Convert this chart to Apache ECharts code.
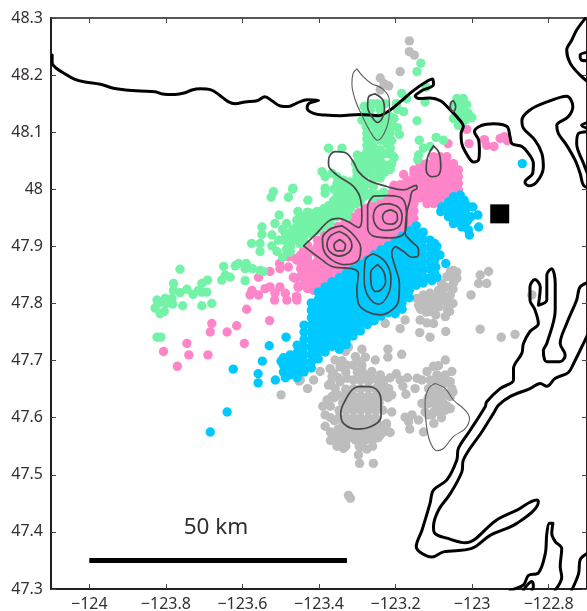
<!DOCTYPE html>
<html><head><meta charset="utf-8">
<style>html,body{margin:0;padding:0;background:#fff}#c{width:587px;height:611px}</style>
<script src="https://cdn.jsdelivr.net/npm/echarts@6/dist/echarts.min.js"></script>
</head><body><div id="c"></div>
<script>
const xTicks=[-124,-123.8,-123.6,-123.4,-123.2,-123,-122.8];
const yTicks=[47.3,47.4,47.5,47.6,47.7,47.8,47.9,48,48.1,48.2,48.3];

// columns: [lon, lat, lat, ...]
const grayColumns=[
[-123.348,47.613,47.600,47.574],[-123.338,47.626,47.587],[-123.329,47.638,47.613,47.600,47.574],[-123.319,47.626,47.587],
[-123.310,47.651,47.638,47.613,47.600,47.574],[-123.300,47.626,47.587],[-123.291,47.651,47.638,47.613,47.600,47.574],[-123.281,47.626,47.587],
[-123.271,47.651,47.638,47.613,47.600,47.574],[-123.262,47.626,47.587],[-123.252,47.651,47.638,47.613,47.600,47.574],[-123.243,47.626,47.587],
[-123.233,47.638,47.613,47.574],[-123.224,47.587],
[-123.370,47.660,47.620,47.600,47.575,47.560],[-123.360,47.635,47.595,47.565],[-123.300,47.680,47.700],[-123.280,47.675],[-123.260,47.668,47.560,47.550],[-123.245,47.665,47.655,47.565],[-123.230,47.665,47.655,47.645],[-123.220,47.635],[-123.330,47.680,47.650,47.640,47.570,47.550],[-123.350,47.640,47.670,47.580,47.570],[-123.390,47.620],[-123.295,47.550,47.575,47.560],[-123.285,47.570],[-123.275,47.545],[-123.340,47.700],
[-123.090,47.650,47.630,47.620],[-123.080,47.665,47.615,47.600,47.635],[-123.100,47.625,47.610,47.590],[-123.065,47.640,47.620],[-123.115,47.635,47.605],[-123.050,47.645],
[-123.080,47.810,47.820,47.835],[-123.065,47.810,47.800,47.790],[-123.050,47.800,47.825,47.845],[-123.095,47.810,47.780,47.795],[-123.120,47.785,47.805],[-123.040,47.855],[-123.135,47.790,47.800]];
const grayPoints=[[-123.384,47.605],[-123.384,47.585],[-123.379,47.631],[-123.366,47.637],[-123.375,47.657],[-123.358,47.651],[-123.345,47.663],[-123.327,47.669],[-123.310,47.666],[-123.292,47.666],[-123.271,47.663],[-123.262,47.681],[-123.240,47.675],[-123.218,47.651],[-123.210,47.640],[-123.210,47.610],[-123.224,47.590],[-123.214,47.574],[-123.240,47.570],[-123.266,47.570],[-123.279,47.561],[-123.288,47.549],[-123.297,47.535],[-123.294,47.520],[-123.258,47.520],[-123.323,47.464],[-123.318,47.459],[-123.331,47.555],[-123.345,47.561],[-123.353,47.550],[-123.336,47.546],[-123.323,47.564],[-123.305,47.561],[-123.362,47.678],[-123.358,47.701],[-123.345,47.689],[-123.327,47.692],[-123.310,47.692],[-123.288,47.692],[-123.288,47.683],[-123.305,47.707],[-123.279,47.706],[-123.288,47.720],[-123.253,47.701],[-123.220,47.720],[-123.220,47.706],[-123.184,47.711],[-123.397,47.681],[-123.414,47.666],[-123.430,47.651],[-123.449,47.666],[-123.366,47.672],[-123.371,47.686],[-123.323,47.724],[-123.331,47.716],
[-123.214,47.670],[-123.198,47.677],[-123.188,47.666],[-123.169,47.670],[-123.181,47.655],[-123.173,47.641],[-123.149,47.651],[-123.144,47.669],[-123.131,47.666],[-123.118,47.681],[-123.110,47.666],[-123.101,47.690],[-123.088,47.691],[-123.070,47.701],[-123.053,47.681],[-123.092,47.675],[-123.070,47.675],[-123.057,47.663],[-123.092,47.660],[-123.073,47.660],[-123.053,47.651],[-123.114,47.651],[-123.097,47.648],[-123.075,47.643],[-123.057,47.637],[-123.092,47.637],[-123.110,47.637],[-123.131,47.625],[-123.114,47.625],[-123.092,47.625],[-123.075,47.625],[-123.057,47.616],[-123.123,47.610],[-123.105,47.605],[-123.088,47.610],[-123.070,47.613],[-123.157,47.605],[-123.175,47.601],[-123.166,47.593],[-123.163,47.580],[-123.140,47.596],[-123.127,47.575],
[-123.140,47.797],[-123.123,47.797],[-123.101,47.797],[-123.088,47.794],[-123.059,47.786],[-123.070,47.777],[-123.110,47.786],[-123.136,47.771],[-123.118,47.766],[-123.101,47.765],[-123.175,47.771],[-123.188,47.756],[-123.227,47.765],[-123.137,47.749],[-123.110,47.741],[-123.069,47.751],[-122.979,47.755],[-122.924,47.741],[-122.888,47.746],
[-123.040,47.844],[-123.057,47.856],[-123.049,47.835],[-123.066,47.847],[-123.070,47.829],[-123.088,47.823],[-123.110,47.818],[-123.127,47.815],[-123.144,47.809],[-123.057,47.815],[-123.083,47.809],[-123.110,47.806],[-123.075,47.806],[-123.049,47.858],[-122.979,47.850],[-122.957,47.856],[-122.983,47.835],[-122.962,47.835],[-123.003,47.815],[-122.844,47.815],
[-123.164,48.260],[-123.164,48.241],[-123.151,48.235],[-123.188,48.206],[-123.240,48.195],[-123.218,48.181],[-123.240,48.174],[-123.230,48.185],[-123.499,47.640],[-123.452,47.664]];

const pinkColumns=[
[-123.448,47.848,47.861,47.874,47.885],[-123.430,47.826,47.839,47.852,47.865,47.878,47.891,47.902],
[-123.404,47.822,47.835,47.848,47.861,47.874,47.887,47.900,47.911],[-123.386,47.831,47.844,47.857,47.870,47.883,47.896,47.909,47.919],
[-123.368,47.838,47.851,47.864,47.877,47.890,47.903,47.916,47.927],[-123.350,47.847,47.860,47.873,47.886,47.899,47.912,47.925,47.935],
[-123.332,47.854,47.867,47.880,47.893,47.906,47.919,47.932,47.943],[-123.314,47.863,47.876,47.889,47.902,47.915,47.928,47.941,47.951],
[-123.296,47.870,47.883,47.896,47.909,47.922,47.935,47.948,47.959],[-123.278,47.879,47.892,47.905,47.918,47.931,47.944,47.957,47.967],
[-123.260,47.886,47.899,47.912,47.925,47.938,47.951,47.964,47.975],[-123.242,47.895,47.908,47.921,47.934,47.947,47.960,47.973,47.983],
[-123.224,47.902,47.915,47.928,47.941,47.954,47.967,47.980,47.991],[-123.206,47.911,47.924,47.937,47.950,47.963,47.976,47.989,47.999],
[-123.188,47.918,47.931,47.944,47.957,47.970,47.983,47.996,48.008],[-123.170,47.927,47.940,47.953,47.966,47.979,47.992,48.005,48.016],
[-123.152,47.936,47.949,47.962,47.975,47.988,48.001,48.014,48.027,48.034],[-123.136,47.985,47.998,48.010,48.022,48.034,48.045],
[-123.118,47.975,47.987,47.999,48.010,48.022,48.034,48.045],[-123.101,47.975,47.987,47.999,48.010,48.022,48.034,48.045,48.057],
[-123.084,47.975,47.987,47.999,48.010,48.022,48.034,48.045,48.057],[-123.066,47.987,47.999,48.010,48.022,48.034,48.045,48.057],
[-123.049,47.987,47.999,48.010,48.022,48.034,48.045],[-123.036,47.999,48.010,48.022,48.034],
[-123.440,47.835,47.848,47.872,47.893],[-123.417,47.832,47.846,47.868,47.892],[-123.127,47.992,48.016,48.039],[-123.092,47.981,48.004,48.028,48.051],[-123.075,47.993,48.016,48.040],[-123.057,47.993,48.016,48.040]];
const pinkPoints=[[-123.589,47.790],[-123.680,47.765],[-123.684,47.750],[-123.640,47.750],[-123.615,47.761],[-123.529,47.770],[-123.595,47.730],[-123.745,47.730],[-123.806,47.716],[-123.740,47.710],[-123.690,47.710],[-123.770,47.690],[-123.516,47.806],
[-123.558,47.846],[-123.528,47.856],[-123.575,47.823],[-123.580,47.815],[-123.558,47.815],[-123.541,47.826],[-123.528,47.829],[-123.502,47.829],[-123.515,47.818],[-123.488,47.818],[-123.502,47.861],[-123.480,47.864],[-123.458,47.876],[-123.503,47.870],[-123.467,47.846],[-123.455,47.829],[-123.458,47.812],[-123.480,47.882],[-123.484,47.806],[-123.458,47.806],
[-123.462,47.879],[-123.462,47.844],[-123.453,47.829],[-123.459,47.812],[-123.431,47.882],[-123.436,47.864],[-123.418,47.835],[-123.414,47.823],[-123.423,47.853],[-123.401,47.858],
[-123.014,48.105],[-123.008,48.080],[-123.063,48.080],[-122.968,48.087],[-122.962,48.077],[-122.943,48.075],[-122.927,48.089],[-122.916,48.092],[-122.908,48.085],[-123.179,48.026],[-123.204,48.007]];

const greenColumns=[
[-123.475,47.923,47.911,47.899,47.890],[-123.458,47.946,47.934,47.923,47.911],[-123.440,47.952,47.940,47.928,47.917,47.908],
[-123.423,47.958,47.946,47.934,47.923],[-123.405,47.961,47.949,47.937,47.928],[-123.388,47.966,47.955,47.943,47.935],
[-123.371,47.972,47.961,47.949,47.942],[-123.353,48.022,48.010,47.999,47.987,47.975,47.964,47.952],
[-123.336,48.016,48.004,47.993,47.981,47.969,47.958],[-123.318,48.013,48.002,47.990,47.978,47.966],
[-123.301,48.045,48.034,48.022,48.010,47.999,47.987,47.975],[-123.284,48.057,48.045,48.034,48.022,48.010,47.999,47.987],
[-123.266,48.075,48.063,48.051,48.040,48.028,47.993],[-123.249,48.057,48.045,48.022,47.990],[-123.231,48.040,47.995],
[-123.275,48.145,48.122,48.110,48.088,48.065],[-123.262,48.150,48.112,48.088,48.064],[-123.245,48.125,48.100,48.060,48.035],[-123.228,48.150,48.118,48.088,48.062,48.030],[-123.210,48.115,48.085,48.060,48.045],[-123.195,48.108,48.140],[-123.300,48.060,48.030],
[-123.327,48.010,47.990,47.970,47.952],[-123.292,48.050,48.030,48.015,47.995,47.980],[-123.275,48.045,48.030,48.010,47.990],[-123.258,48.020,48.005,47.985],[-123.240,48.050,48.020,47.990],[-123.362,48.000,47.980,47.960],
[-123.430,47.960,47.935],[-123.414,47.945,47.930],[-123.396,47.955,47.940],[-123.378,47.960,47.945],[-123.450,47.940,47.920,47.905],[-123.468,47.930,47.915],[-123.485,47.940,47.910,47.895]];
const greenPoints=[[-123.469,48.000],[-123.480,47.986],[-123.519,47.996],[-123.525,47.986],[-123.455,47.961],[-123.504,47.955],[-123.454,47.946],[-123.515,47.940],[-123.549,47.934],[-123.495,47.930],[-123.549,47.921],[-123.523,47.920],[-123.469,47.926],[-123.506,47.911],[-123.576,47.905],[-123.554,47.905],[-123.523,47.901],[-123.493,47.911],[-123.475,47.902],[-123.488,47.923],[-123.554,47.891],[-123.510,47.891],[-123.495,47.881],[-123.610,47.870],[-123.649,47.865],[-123.619,47.866],[-123.590,47.870],[-123.593,47.861],[-123.574,47.861],[-123.554,47.858],[-123.545,47.856],[-123.763,47.860],[-123.645,47.850],[-123.654,47.841],[-123.632,47.846],[-123.593,47.840],[-123.691,47.841],[-123.706,47.835],[-123.780,47.835],[-123.745,47.825],[-123.715,47.823],[-123.780,47.823],[-123.763,47.819],[-123.729,47.816],[-123.706,47.820],[-123.693,47.820],[-123.823,47.806],[-123.802,47.809],[-123.784,47.809],
[-123.828,47.792],[-123.815,47.782],[-123.804,47.786],[-123.819,47.801],[-123.800,47.800],[-123.782,47.799],[-123.756,47.796],[-123.706,47.796],[-123.680,47.800],[-123.823,47.741],[-123.813,47.741],
[-123.282,48.145],[-123.266,48.139],[-123.279,48.133],[-123.249,48.150],[-123.240,48.139],[-123.231,48.127],[-123.262,48.124],[-123.288,48.121],[-123.277,48.110],[-123.253,48.112],[-123.236,48.112],[-123.214,48.127],[-123.204,48.124],[-123.218,48.107],[-123.231,48.098],[-123.253,48.098],[-123.214,48.098],[-123.190,48.096],[-123.198,48.150],[-123.184,48.168],[-123.171,48.159],[-123.179,48.136],[-123.134,48.221],[-123.144,48.206],[-123.120,48.179],[-123.123,48.153],[-123.144,48.120],[-123.138,48.086],[-123.094,48.091],[-123.075,48.086],[-123.110,48.075],[-123.127,48.072],[-123.140,48.060],[-123.142,48.052],[-123.275,48.077],[-123.258,48.075],[-123.240,48.086],[-123.223,48.080],[-123.240,48.069],[-123.214,48.072],[-123.204,48.056],[-123.227,48.042],[-123.214,48.035],[-123.258,48.051],[-123.288,48.057],[-123.271,48.054],[-123.305,48.045],[-123.375,48.072],[-123.340,48.072],[-123.392,48.031],[-123.384,48.022],[-123.366,48.028],[-123.468,48.002],[-123.429,47.981],[-123.375,47.971],[-123.384,48.002],[-123.384,47.993],[-123.275,48.098],
[-123.040,48.159],[-123.023,48.159],[-123.049,48.148],[-123.031,48.148],[-123.014,48.148],[-123.040,48.136],[-123.023,48.136],[-123.010,48.133],[-123.001,48.126],[-123.036,48.124],[-123.018,48.121],[-123.036,48.112],[-123.049,48.124]];

const cyanColumns=[
[-123.493,47.705,47.692,47.680],[-123.475,47.710,47.697,47.685,47.675],[-123.457,47.727,47.714,47.701,47.689,47.676,47.670],
[-123.439,47.762,47.750,47.737,47.724,47.711,47.698,47.685,47.680],[-123.420,47.801,47.788,47.775,47.762,47.749,47.736,47.723,47.710,47.697,47.687],
[-123.402,47.820,47.807,47.794,47.781,47.768,47.755,47.742,47.729,47.716,47.703],[-123.384,47.829,47.816,47.803,47.790,47.777,47.764,47.751,47.738,47.725,47.715],
[-123.366,47.838,47.825,47.812,47.799,47.786,47.773,47.760,47.747,47.734,47.725],[-123.347,47.845,47.832,47.819,47.806,47.793,47.780,47.767,47.754,47.741,47.728,47.720],
[-123.329,47.853,47.840,47.827,47.814,47.801,47.788,47.775,47.762,47.749,47.736,47.728],[-123.311,47.860,47.847,47.834,47.821,47.808,47.795,47.782,47.769,47.756,47.743],
[-123.292,47.869,47.856,47.843,47.830,47.817,47.804,47.791,47.778,47.765,47.752],[-123.274,47.876,47.863,47.850,47.837,47.824,47.811,47.798,47.785,47.772,47.763],
[-123.256,47.885,47.872,47.859,47.846,47.833,47.820,47.807,47.794,47.781,47.770],[-123.238,47.894,47.881,47.868,47.855,47.842,47.829,47.816,47.803,47.790,47.778],
[-123.219,47.901,47.888,47.875,47.862,47.849,47.836,47.823,47.810,47.797,47.784],[-123.201,47.909,47.896,47.883,47.870,47.857,47.844,47.831,47.818,47.805,47.792,47.782],
[-123.183,47.918,47.905,47.892,47.879,47.866,47.853,47.840,47.827,47.814,47.801,47.790],[-123.164,47.927,47.914,47.901,47.888,47.875,47.862,47.849,47.836,47.823,47.810],
[-123.146,47.936,47.923,47.910,47.897,47.884,47.871,47.858,47.845,47.832],[-123.128,47.925,47.912,47.899,47.886,47.873,47.860,47.847,47.836],
[-123.110,47.911,47.898,47.885,47.872,47.860,47.845],[-123.098,47.905,47.890,47.876,47.852]];
const cyanPoints=[[-123.092,47.900],[-123.084,47.885],[-123.069,47.870],[-123.095,47.864],[-123.092,47.846],[-123.105,47.840],
[-123.031,47.990],[-123.049,47.987],[-123.021,47.981],[-123.062,47.978],[-123.040,47.975],[-123.014,47.972],[-123.079,47.969],[-123.057,47.966],[-123.036,47.964],[-123.018,47.961],[-122.998,47.969],[-122.985,47.955],[-123.082,47.961],[-123.062,47.952],[-123.040,47.949],[-123.023,47.946],[-123.003,47.952],[-123.049,47.940],[-123.027,47.934],[-123.010,47.929],[-123.007,47.920],[-122.983,47.934],[-122.869,48.045],
[-123.050,47.975],[-123.030,47.975],[-123.070,47.962],[-123.048,47.958],[-123.028,47.955],[-123.012,47.945],[-123.035,47.942],[-123.018,47.935],
[-123.486,47.741],[-123.530,47.726],[-123.548,47.699],[-123.624,47.685],[-123.559,47.677],[-123.559,47.661],[-123.514,47.666],[-123.488,47.670],[-123.499,47.699],[-123.640,47.610],[-123.684,47.575]];

const coastStrait=[[-124.097,48.235],[-124.097,48.221],[-124.086,48.212],[-124.063,48.202],[-124.039,48.193],[-124.011,48.188],[-123.971,48.184],[-123.937,48.177],[-123.906,48.174],[-123.867,48.172],[-123.828,48.171],[-123.809,48.167],[-123.776,48.166],[-123.750,48.169],[-123.732,48.174],[-123.710,48.176],[-123.682,48.174],[-123.658,48.164],[-123.636,48.153],[-123.619,48.150],[-123.593,48.153],[-123.562,48.155],[-123.541,48.162],[-123.523,48.155],[-123.501,48.146],[-123.480,48.145],[-123.458,48.151],[-123.431,48.157],[-123.401,48.156],[-123.427,48.150],[-123.431,48.142],[-123.414,48.133],[-123.384,48.130],[-123.345,48.129],[-123.292,48.131],[-123.244,48.129],[-123.214,48.139],[-123.188,48.153],[-123.157,48.171],[-123.123,48.187],[-123.103,48.193],[-123.101,48.183],[-123.131,48.173],[-123.149,48.163],[-123.136,48.159],[-123.110,48.160],[-123.083,48.155],[-123.057,48.139],[-123.036,48.124],[-123.023,48.110],[-123.029,48.098],[-123.027,48.080],[-123.010,48.057],[-122.997,48.048],[-122.983,48.052],[-122.981,48.069],[-122.983,48.086],[-122.994,48.101],[-122.975,48.112],[-122.944,48.115],[-122.909,48.110],[-122.901,48.092],[-122.896,48.080],[-122.870,48.075],[-122.853,48.063],[-122.840,48.045],[-122.842,48.028],[-122.862,48.013],[-122.853,48.006],[-122.831,48.013],[-122.814,48.039],[-122.818,48.063],[-122.836,48.086],[-122.866,48.107],[-122.870,48.121],[-122.849,48.139],[-122.805,48.153],[-122.753,48.163],[-122.737,48.145],[-122.749,48.127],[-122.779,48.112],[-122.775,48.098],[-122.753,48.077],[-122.731,48.051],[-122.718,48.028],[-122.709,48.007],[-122.692,48.002]];
const coastNE=[[-122.705,48.299],[-122.727,48.279],[-122.740,48.261],[-122.753,48.244],[-122.744,48.221],[-122.718,48.200],[-122.692,48.185]];
const coastNE2=[[-122.692,48.241],[-122.718,48.235],[-122.714,48.226],[-122.692,48.225]];
const coastE1=[[-122.692,48.118],[-122.714,48.112],[-122.692,48.105]];
const coastE2=[[-122.692,48.101],[-122.722,48.098],[-122.727,48.080],[-122.709,48.045],[-122.692,48.016]];
const coastHood=[[-122.692,47.838],[-122.718,47.829],[-122.727,47.806],[-122.753,47.765],[-122.770,47.730],[-122.757,47.710],[-122.770,47.698],[-122.805,47.698],[-122.814,47.718],[-122.805,47.730],[-122.783,47.789],[-122.783,47.835],[-122.792,47.861],[-122.805,47.850],[-122.805,47.806],[-122.827,47.797],[-122.822,47.829],[-122.836,47.842],[-122.849,47.829],[-122.849,47.806],[-122.836,47.789],[-122.827,47.765],[-122.849,47.751],[-122.866,47.730],[-122.870,47.713],[-122.892,47.686],[-122.892,47.666],[-122.927,47.651],[-122.962,47.628],[-122.966,47.619],[-123.005,47.578],[-123.036,47.546],[-123.040,47.526],[-123.066,47.491],[-123.101,47.473],[-123.110,47.450],[-123.131,47.403],[-123.146,47.374],[-123.131,47.362],[-123.105,47.356],[-123.075,47.365],[-123.001,47.371],[-122.953,47.394],[-122.883,47.415],[-122.827,47.453],[-122.831,47.456],[-122.883,47.438],[-122.936,47.421],[-123.018,47.381],[-123.066,47.389],[-123.097,47.397],[-123.101,47.409],[-123.088,47.438],[-123.057,47.467],[-123.027,47.505],[-123.023,47.526],[-122.975,47.575],[-122.944,47.608],[-122.931,47.622],[-122.901,47.637],[-122.849,47.651],[-122.822,47.660],[-122.805,47.655],[-122.783,47.669],[-122.749,47.679],[-122.735,47.695],[-122.705,47.736],[-122.692,47.754]];
const coastS1=[[-122.901,47.298],[-122.866,47.307],[-122.853,47.324],[-122.827,47.328],[-122.809,47.362],[-122.805,47.397],[-122.798,47.415],[-122.789,47.415],[-122.792,47.397],[-122.783,47.383],[-122.766,47.371],[-122.770,47.339],[-122.766,47.321],[-122.783,47.298]];
const coastS2=[[-122.866,47.298],[-122.844,47.313],[-122.840,47.304],[-122.844,47.298]];
const coastS3=[[-122.740,47.298],[-122.722,47.327],[-122.718,47.351],[-122.692,47.365]];

const contourMain=[[-123.440,47.901],[-123.410,47.920],[-123.371,47.946],[-123.349,47.949],[-123.323,47.943],[-123.297,47.933],[-123.288,47.952],[-123.291,47.981],[-123.310,48.005],[-123.353,48.025],[-123.375,48.043],[-123.375,48.051],[-123.358,48.066],[-123.331,48.064],[-123.310,48.048],[-123.297,48.031],[-123.271,48.016],[-123.223,48.005],[-123.179,47.999],[-123.146,48.007],[-123.144,48.002],[-123.157,47.996],[-123.162,47.981],[-123.171,47.958],[-123.175,47.923],[-123.162,47.911],[-123.140,47.894],[-123.140,47.885],[-123.157,47.881],[-123.179,47.891],[-123.201,47.899],[-123.210,47.888],[-123.201,47.864],[-123.190,47.835],[-123.192,47.806],[-123.205,47.791],[-123.240,47.780],[-123.275,47.786],[-123.297,47.800],[-123.301,47.824],[-123.297,47.853],[-123.314,47.861],[-123.362,47.864],[-123.397,47.879],[-123.440,47.901]];
const contourL1=[[-123.340,47.936],[-123.310,47.920],[-123.291,47.897],[-123.297,47.876],[-123.331,47.868],[-123.366,47.876],[-123.388,47.894],[-123.391,47.914],[-123.371,47.930],[-123.340,47.936]];
const contourL2=[[-123.347,47.926],[-123.323,47.916],[-123.314,47.901],[-123.323,47.889],[-123.347,47.883],[-123.369,47.889],[-123.379,47.902],[-123.372,47.917],[-123.347,47.926]];
const contourL3=[[-123.346,47.912],[-123.331,47.902],[-123.338,47.892],[-123.353,47.892],[-123.361,47.902],[-123.346,47.912]];
const contourR1=[[-123.258,47.988],[-123.223,47.989],[-123.192,47.987],[-123.175,47.975],[-123.171,47.949],[-123.177,47.923],[-123.214,47.915],[-123.258,47.918],[-123.273,47.934],[-123.273,47.970],[-123.258,47.988]];
const contourR2=[[-123.218,47.975],[-123.192,47.968],[-123.183,47.952],[-123.192,47.934],[-123.223,47.928],[-123.247,47.933],[-123.258,47.952],[-123.247,47.970],[-123.218,47.975]];
const contourR3=[[-123.214,47.964],[-123.197,47.958],[-123.195,47.948],[-123.210,47.939],[-123.224,47.940],[-123.234,47.952],[-123.228,47.960],[-123.214,47.964]];
const contourM1=[[-123.258,47.887],[-123.227,47.873],[-123.212,47.844],[-123.218,47.818],[-123.244,47.799],[-123.271,47.812],[-123.282,47.841],[-123.279,47.876],[-123.258,47.887]];
const contourM2=[[-123.247,47.868],[-123.231,47.856],[-123.226,47.838],[-123.238,47.824],[-123.252,47.821],[-123.264,47.835],[-123.265,47.854],[-123.247,47.868]];
const contourN2=[[-123.253,48.167],[-123.233,48.156],[-123.229,48.139],[-123.247,48.117],[-123.262,48.127],[-123.273,48.145],[-123.271,48.161],[-123.253,48.167]];
const contourN3=[[-123.049,48.155],[-123.043,48.145],[-123.049,48.136],[-123.057,48.143],[-123.055,48.152],[-123.049,48.155]];
const contourN4=[[-123.101,48.076],[-123.086,48.063],[-123.082,48.039],[-123.088,48.025],[-123.105,48.022],[-123.120,48.034],[-123.116,48.057],[-123.101,48.076]];
const contourG1=[[-123.288,47.655],[-123.258,47.653],[-123.238,47.631],[-123.238,47.602],[-123.266,47.584],[-123.301,47.580],[-123.336,47.590],[-123.343,47.608],[-123.331,47.631],[-123.310,47.651],[-123.288,47.655]];
const contourThinN=[[-123.301,48.211],[-123.284,48.197],[-123.262,48.185],[-123.236,48.177],[-123.217,48.159],[-123.216,48.139],[-123.224,48.107],[-123.247,48.086],[-123.266,48.101],[-123.288,48.130],[-123.305,48.156],[-123.314,48.185],[-123.311,48.203],[-123.301,48.211]];
const contourThinG=[[-123.097,47.660],[-123.070,47.651],[-123.049,47.631],[-123.018,47.613],[-123.007,47.599],[-123.018,47.581],[-123.049,47.567],[-123.075,47.546],[-123.092,47.542],[-123.110,47.558],[-123.120,47.590],[-123.123,47.625],[-123.114,47.651],[-123.097,47.660]];

const stationPoint=[[-122.928,47.957]];
const scaleBar=[[-124,47.35],[-123.327,47.35]];
const scaleLabelPoint=[[-123.669,47.407]];
const scaleLabel='50 km';

const FONT='"Noto Sans"', TXT='#332e2f', AXIS='#231f20';
const expand=cols=>cols.flatMap(c=>c.slice(1).map(v=>[c[0],v]));
const scatter=(d,color)=>({type:'scatter',data:d,symbol:'circle',symbolSize:9.4,itemStyle:{color,opacity:1},silent:true,animation:false,clip:true});
const line=(d,color,width,smooth)=>({type:'line',data:d,showSymbol:false,symbol:'none',smooth:smooth,lineStyle:{color,width,cap:'round',join:'round'},silent:true,animation:false,clip:true,z:3});
const coasts=[coastStrait,coastNE,coastNE2,coastE1,coastE2,coastHood,coastS1,coastS2,coastS3].map(d=>line(d,'#000',3,0.35));
const contours=[contourMain,contourL1,contourL2,contourL3,contourR1,contourR2,contourR3,contourM1,contourM2,contourN2,contourN3,contourN4,contourG1].map(d=>line(d,'#474747',1.7,0.4));
const thin=[contourThinN,contourThinG].map(d=>line(d,'#5c5c5c',1.1,0.4));

const xBase={type:'value',min:-124.1,max:-122.7,splitLine:{show:false},
 axisLine:{show:true,onZero:false,lineStyle:{color:AXIS,width:2}},
 axisTick:{show:true,inside:true,length:5,customValues:xTicks,lineStyle:{color:'#444',width:1}}};
const yBase={type:'value',min:47.3,max:48.3,splitLine:{show:false},
 axisLine:{show:true,onZero:false,lineStyle:{color:AXIS,width:2}},
 axisTick:{show:true,inside:true,length:5,customValues:yTicks,lineStyle:{color:'#444',width:1}}};

echarts.init(document.getElementById('c'),null,{renderer:'canvas'}).setOption({
 animation:false,backgroundColor:'#fff',
 grid:{left:51,right:0,top:18,bottom:22,containLabel:false,outerBoundsMode:'none'},
 xAxis:[
  {...xBase,position:'bottom',axisLabel:{show:true,customValues:xTicks,margin:7,fontFamily:FONT,fontSize:16,color:TXT,formatter:v=>String(v).replace('-','\u2212')}},
  {...xBase,position:'top',axisLine:{show:true,onZero:false,lineStyle:{color:AXIS,width:1.5}},axisLabel:{show:false}}],
 yAxis:[
  {...yBase,position:'left',axisLabel:{show:true,customValues:yTicks,margin:8,fontFamily:FONT,fontSize:16,color:TXT,formatter:v=>String(v)}},
  {...yBase,position:'right',axisLabel:{show:false}}],
 series:[
  scatter(expand(grayColumns).concat(grayPoints),'#bdbdbd'),
  scatter(expand(pinkColumns).concat(pinkPoints),'#ff85c9'),
  scatter(expand(greenColumns).concat(greenPoints),'#74f3a8'),
  scatter(expand(cyanColumns).concat(cyanPoints),'#00c9ff'),
  ...coasts,...thin,...contours,
  {type:'scatter',data:stationPoint,symbol:'rect',symbolSize:19,itemStyle:{color:'#000',opacity:1},silent:true,z:4},
  {type:'line',data:scaleBar,showSymbol:false,symbol:'none',lineStyle:{color:'#000',width:5,cap:'butt'},silent:true,z:4},
  {type:'scatter',data:scaleLabelPoint,symbolSize:1,itemStyle:{color:'#fff',opacity:0},silent:true,z:5,label:{show:true,position:'inside',opacity:1,formatter:()=>scaleLabel,fontFamily:FONT,fontSize:22.5,color:TXT}}
 ]
});
</script></body></html>
